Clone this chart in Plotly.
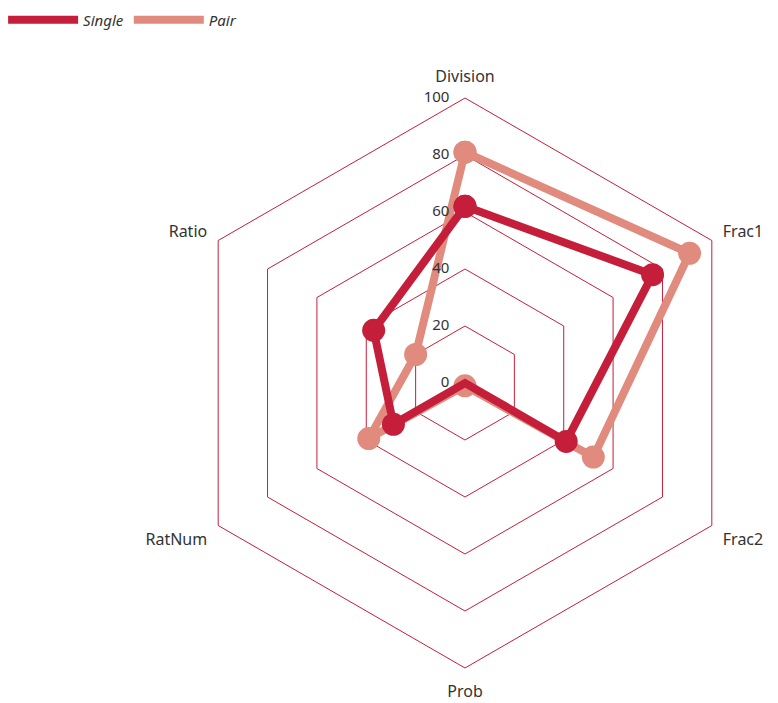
import plotly.graph_objects as go

categories = ["Division", "Frac1", "Frac2", "Prob", "RatNum", "Ratio"]
single_values = [62, 76, 41, 0, 29, 37]
pair_values = [81, 91, 52, 1, 39, 20]
radial_ticks = [0, 20, 40, 60, 80, 100]

SINGLE_COLOR = "#C41E3A"
PAIR_COLOR = "#E08B7D"
GRID_COLOR = "#C41E3A"
NBSP = "\u00a0"

def closed(vals):
    return vals + vals[:1]

fig = go.Figure()

fig.add_trace(go.Scatterpolar(
    r=closed(pair_values), theta=closed(categories), mode="lines+markers",
    line=dict(color=PAIR_COLOR, width=8), marker=dict(color=PAIR_COLOR, size=23),
    showlegend=False, name="Pair"))
fig.add_trace(go.Scatterpolar(
    r=closed(single_values), theta=closed(categories), mode="lines+markers",
    line=dict(color=SINGLE_COLOR, width=8), marker=dict(color=SINGLE_COLOR, size=23),
    showlegend=False, name="Single"))

# radial tick labels (horizontal, left of the first axis); r=0 nudged so it is drawn
fig.add_trace(go.Scatterpolar(
    r=[v if v > 0 else 0.01 for v in radial_ticks],
    theta=[categories[0]] * len(radial_ticks), mode="text",
    text=[f"{v}{NBSP * 4}" for v in radial_ticks], textposition="middle left",
    textfont=dict(family="Noto Sans", size=15, color="#333333"),
    showlegend=False, hoverinfo="skip", cliponaxis=False))

# legend-only entries
fig.add_trace(go.Scatterpolar(r=[None], theta=[categories[0]], mode="lines",
    line=dict(color=SINGLE_COLOR, width=8), name="Single"))
fig.add_trace(go.Scatterpolar(r=[None], theta=[categories[0]], mode="lines",
    line=dict(color=PAIR_COLOR, width=8), name="Pair"))

W, H = 778, 703
cx, cy, R = 465, 383, 285
fig.update_layout(
    width=W, height=H,
    margin=dict(l=0, r=0, t=0, b=0),
    paper_bgcolor="white", plot_bgcolor="white",
    font=dict(family="Noto Sans", size=15, color="#333333"),
    legend=dict(orientation="h", x=0.004, y=0.995, xanchor="left", yanchor="top",
                itemwidth=70, font=dict(size=15, style="italic"),
                bgcolor="rgba(0,0,0,0)", tracegroupgap=0),
    polar=dict(
        domain=dict(x=[(cx - R) / W, (cx + R) / W],
                    y=[(H - cy - R) / H, (H - cy + R) / H]),
        bgcolor="white",
        gridshape="linear",
        angularaxis=dict(rotation=90, direction="clockwise",
                         showgrid=False, showline=True, linecolor=GRID_COLOR,
                         linewidth=1, ticks="outside", ticklen=9,
                         tickcolor="rgba(0,0,0,0)",
                         tickfont=dict(size=16, color="#333333")),
        radialaxis=dict(range=[0, 100], tickvals=radial_ticks, angle=90,
                        showticklabels=False, ticks="",
                        showline=False, showgrid=True, gridcolor=GRID_COLOR,
                        gridwidth=1),
    ),
)

fig.write_html("out.html")
